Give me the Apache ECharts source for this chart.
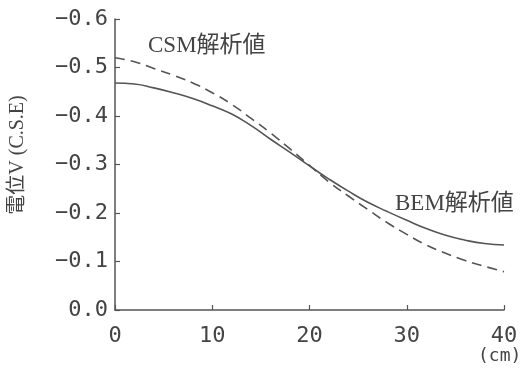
<!DOCTYPE html>
<html>
<head>
<meta charset="utf-8">
<script src="https://cdn.jsdelivr.net/npm/echarts@6/dist/echarts.min.js"></script>
<style>html,body{margin:0;padding:0;background:#fff;}#c{width:523px;height:371px;}</style>
</head>
<body>
<div id="c"></div>
<script>
const xPositions = [0, 2, 4, 6, 8, 10, 12, 14, 16, 18, 20, 22, 24, 26, 28, 30, 32, 34, 36, 38, 40];
const bemValues = [-0.468, -0.466, -0.458, -0.448, -0.436, -0.421, -0.404, -0.380, -0.352, -0.325, -0.297, -0.270, -0.245, -0.222, -0.203, -0.185, -0.168, -0.154, -0.144, -0.137, -0.134];
const csmValues = [-0.520, -0.512, -0.498, -0.484, -0.468, -0.448, -0.424, -0.395, -0.365, -0.332, -0.298, -0.264, -0.235, -0.207, -0.180, -0.156, -0.134, -0.117, -0.102, -0.090, -0.079];
const yTickLabels = ['0.0', '−0.1', '−0.2', '−0.3', '−0.4', '−0.5', '−0.6'];
const xTickLabels = ['0', '10', '20', '30', '40'];
const seriesNames = ['BEM解析値', 'CSM解析値'];
const yAxisTitle = '電位V (C.S.E)';
const xUnit = '(cm)';

const chart = echarts.init(document.getElementById('c'), null, {renderer: 'canvas'});
const lineColor = '#555';
const textColor = '#444';
const monoFont = '"DejaVu Sans Mono", monospace';
const labelFont = '"Liberation Serif", "Noto Sans CJK JP", serif';

const pairs = (vals) => xPositions.map((x, i) => [x, vals[i]]);

chart.setOption({
  animation: false,
  backgroundColor: '#fff',
  grid: {left: 115, right: 19, top: 19, bottom: 61},
  xAxis: {
    type: 'value', min: 0, max: 40, interval: 10,
    axisLine: {lineStyle: {color: lineColor, width: 1.5}},
    axisTick: {inside: true, length: 5, lineStyle: {color: lineColor, width: 1.2}},
    splitLine: {show: false},
    axisLabel: {
      color: textColor, fontSize: 22, fontFamily: monoFont, margin: 15,
      formatter: (v) => xTickLabels[Math.round(v / 10)]
    }
  },
  yAxis: {
    type: 'value', min: -0.6, max: 0, interval: 0.1, inverse: true,
    axisLine: {show: true, lineStyle: {color: lineColor, width: 1.5}},
    axisTick: {show: true, inside: true, length: 5, lineStyle: {color: lineColor, width: 1.2}},
    splitLine: {show: false},
    axisLabel: {
      color: textColor, fontSize: 22, fontFamily: monoFont, margin: 7,
      formatter: (v) => yTickLabels[Math.round(-v * 10)]
    }
  },
  series: [
    {
      name: seriesNames[0], type: 'line', data: pairs(bemValues), smooth: true,
      showSymbol: false, lineStyle: {color: lineColor, width: 1.6, type: 'solid'}
    },
    {
      name: seriesNames[1], type: 'line', data: pairs(csmValues), smooth: true,
      showSymbol: false, lineStyle: {color: lineColor, width: 1.6, type: [10, 6]}
    }
  ],
  graphic: [
    {type: 'text', left: 148, top: 34, style: {text: seriesNames[1], fill: textColor, font: '23px ' + labelFont}},
    {type: 'text', left: 395, top: 192, style: {text: seriesNames[0], fill: textColor, font: '23px ' + labelFont}},
    {type: 'text', x: 18, y: 155, rotation: Math.PI / 2,
      style: {text: yAxisTitle, fill: textColor, font: '20px ' + labelFont, align: 'center', verticalAlign: 'middle'}},
    {type: 'text', left: 478, top: 347, style: {text: xUnit, fill: textColor, font: '18px ' + monoFont}}
  ]
});
</script>
</body>
</html>
